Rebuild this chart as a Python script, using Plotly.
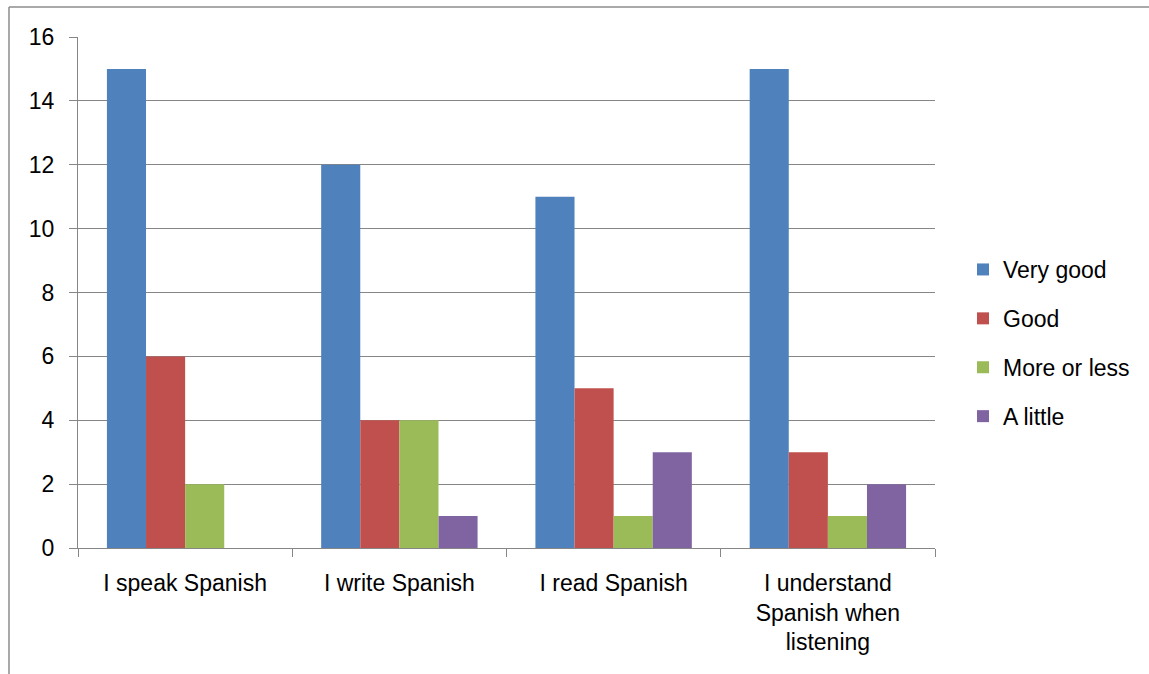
import plotly.graph_objects as go

categories = ["I speak Spanish", "I write Spanish", "I read Spanish",
              "I understand<br>Spanish when<br>listening"]
series_names = ["Very good", "Good", "More or less", "A little"]
very_good = [15, 12, 11, 15]
good = [6, 4, 5, 3]
more_or_less = [2, 4, 1, 1]
a_little = [0, 1, 3, 2]
colors = ["#4F81BD", "#C0504D", "#9BBB59", "#8064A2"]

W, H = 1149, 674
L, R, T, B = 78, 935, 37, 548

fig = go.Figure()
for i, (name, vals) in enumerate(zip(series_names, [very_good, good, more_or_less, a_little])):
    fig.add_trace(go.Bar(x=categories, y=vals, name=name, marker_color=colors[i],
                         marker_line_width=0, legendgroup=name))

font = "Liberation Sans, Arial, sans-serif"
gridc = "#868686"
fs = 23
fig.update_layout(
    width=W, height=H,
    margin=dict(l=L, r=W - R, t=T, b=H - B, pad=0),
    paper_bgcolor="white", plot_bgcolor="white",
    barmode="group", bargap=0.27, bargroupgap=0,
    font=dict(family=font, size=fs, color="black"),
    showlegend=True,
    legend=dict(xref="container", yref="container", x=963 / W, y=1 - 248 / H,
                xanchor="left", yanchor="top", traceorder="grouped",
                tracegroupgap=16, font=dict(size=fs), itemwidth=30,
                bgcolor="rgba(0,0,0,0)"),
    xaxis=dict(showgrid=False, showline=True, linecolor=gridc, linewidth=1,
               ticks="outside", tickson="boundaries", ticklen=8, tickcolor=gridc,
               tickfont=dict(size=fs), ticklabelstandoff=14),
    yaxis=dict(range=[0, 16], dtick=2, showgrid=True, gridcolor=gridc, gridwidth=1,
               showline=True, linecolor=gridc, linewidth=1, ticks="outside",
               ticklen=8, tickcolor=gridc, zeroline=False, tickfont=dict(size=fs),
               ticklabelstandoff=10),
)

# chart area border (partially visible, top and left)
pw, ph = R - L, B - T
def px2x(px): return (px - L) / pw
def py2y(py): return (B - py) / ph
fig.add_shape(type="line", xref="paper", yref="paper", x0=px2x(9), x1=px2x(W + 5),
              y0=py2y(7), y1=py2y(7), line=dict(color="#8c8c8c", width=1.5))
fig.add_shape(type="line", xref="paper", yref="paper", x0=px2x(9), x1=px2x(9),
              y0=py2y(7), y1=py2y(H + 5), line=dict(color="#8c8c8c", width=1.5))

fig.write_html("out.html")
